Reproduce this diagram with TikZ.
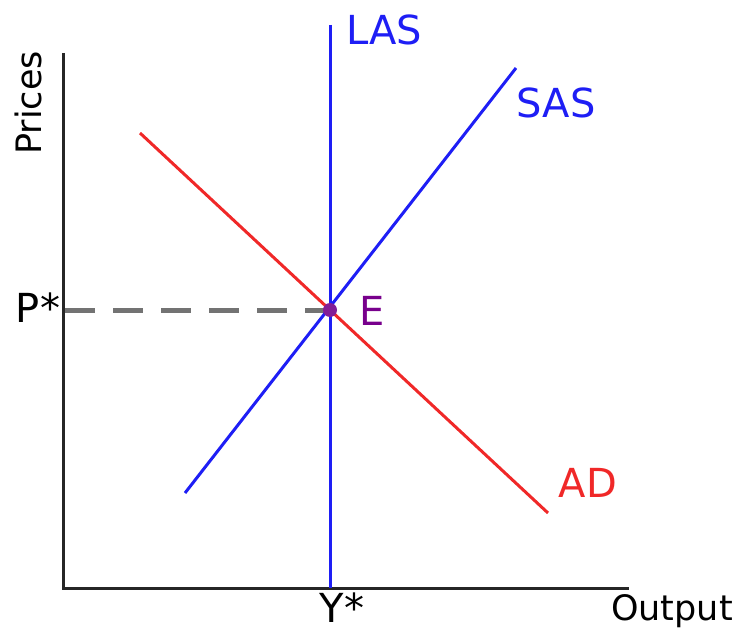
\documentclass[tikz,border=0pt]{standalone}
\usepackage{fontspec}
\setmainfont{DejaVu Sans}
\begin{document}
\begin{tikzpicture}[x=1pt,y=-1pt,
  axis/.style={line width=3pt,draw=black!85},
  curve/.style={line width=3pt},
  lbl/.style={font=\fontsize{40}{44}\selectfont,inner sep=0pt},
  albl/.style={font=\fontsize{35}{38}\selectfont,inner sep=0pt}]
\useasboundingbox (0,0) rectangle (739,634);
\coordinate (O) at (63,588);
\coordinate (ytop) at (63,53);
\coordinate (xend) at (629,588);
\coordinate (lasTop) at (330,25);
\coordinate (lasBot) at (330,588);
\coordinate (sasA) at (185,493);
\coordinate (sasB) at (516,68);
\coordinate (adA) at (140,133);
\coordinate (adB) at (548,513);
\coordinate (pAxis) at (65,310);
\draw[axis] (ytop) -- (O) -- (xend);
\draw[line width=5pt,draw=black!55,dash pattern=on 30pt off 18pt] (pAxis) -- (330,310);
\draw[curve,draw={rgb,255:red,240;green,40;blue,40}] (adA) -- (adB);
\draw[curve,draw={rgb,255:red,30;green,30;blue,245}] (sasA) -- (sasB);
\draw[curve,draw={rgb,255:red,30;green,30;blue,245}] (lasTop) -- (lasBot);
\node[circle,fill={rgb,255:red,130;green,30;blue,150},minimum size=14pt,inner sep=0pt] (E) at (330,310) {};
\node[lbl,text={rgb,255:red,120;green,0;blue,140}] (Elbl) at (372,311) {E};
\node[lbl,text={rgb,255:red,30;green,30;blue,245}] (LAS) at (384,30) {LAS};
\node[lbl,text={rgb,255:red,30;green,30;blue,245}] (SAS) at (556,103) {SAS};
\node[lbl,text={rgb,255:red,240;green,40;blue,40}] (AD) at (588,483) {AD};
\node[lbl] (Pstar) at (38,308) {P*};
\node[lbl] (Ystar) at (342,608) {Y*};
\node[albl] (Output) at (672,611) {Output};
\node[albl,rotate=90] (Prices) at (28,103) {Prices};
\end{tikzpicture}
\end{document}
